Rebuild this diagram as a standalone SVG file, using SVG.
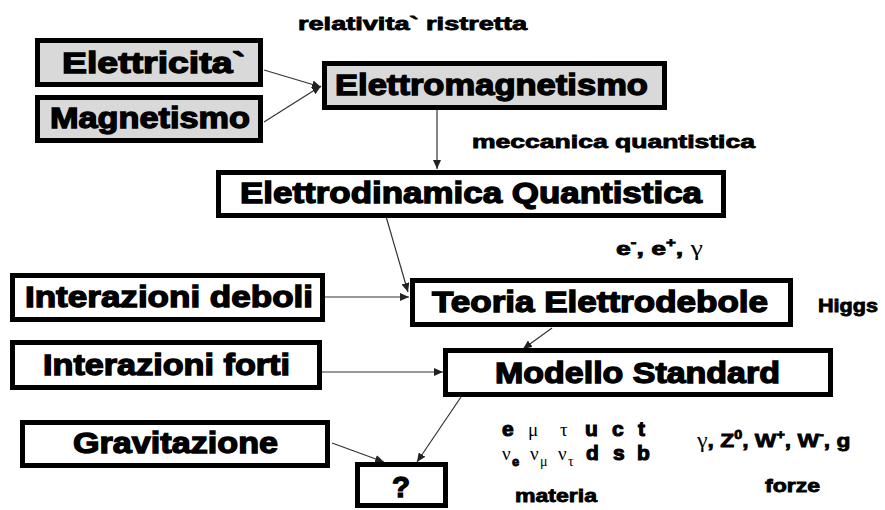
<svg xmlns="http://www.w3.org/2000/svg" width="885" height="510" viewBox="0 0 885 510">
<style>
.box{stroke:#000;stroke-width:5;fill:#fff}
.grey{fill:#d9d9d9}
.lbl{font-family:"Liberation Sans",Arial,sans-serif;font-weight:bold;font-size:29px;fill:#000;stroke:#000;stroke-width:1.3}
.note{font-family:"Liberation Sans",Arial,sans-serif;font-weight:bold;font-size:18px;fill:#000;stroke:#000;stroke-width:0.8}
.big{font-size:21px;stroke-width:1.1}
.gk{font-family:"Liberation Serif","Times New Roman",serif;font-weight:normal;stroke:none}
.conn{stroke:#333;stroke-width:1.2;fill:none;marker-end:url(#ah)}
</style>
<defs>
<marker id="ah" markerUnits="userSpaceOnUse" markerWidth="10" markerHeight="8" refX="9" refY="4" orient="auto">
<path d="M0,0 L9,4 L0,8 Z" fill="#222"/>
</marker>
</defs>
<rect width="885" height="510" fill="#fff"/>

<g id="connectors">
<line class="conn" x1="264" y1="70" x2="321" y2="87"/>
<line class="conn" x1="264" y1="122" x2="321" y2="86"/>
<line class="conn" x1="437" y1="110" x2="437" y2="169"/>
<line class="conn" x1="385" y1="213" x2="408" y2="292"/>
<line class="conn" x1="325" y1="297" x2="409" y2="297"/>
<line class="conn" x1="552" y1="328" x2="523" y2="349"/>
<line class="conn" x1="322" y1="372" x2="443" y2="372"/>
<line class="conn" x1="332" y1="443" x2="384" y2="462"/>
<line class="conn" x1="461" y1="397" x2="417" y2="462"/>
</g>

<g id="elettricita">
<rect class="box grey" x="37.5" y="40.5" width="223" height="44"/>
<text class="lbl" x="62" y="73" textLength="183" lengthAdjust="spacingAndGlyphs">Elettricita`</text>
</g>
<g id="magnetismo">
<rect class="box grey" x="37.5" y="97.5" width="223" height="43"/>
<text class="lbl" x="50" y="128" textLength="200" lengthAdjust="spacingAndGlyphs">Magnetismo</text>
</g>
<g id="elettromagnetismo">
<rect class="box grey" x="324.5" y="63.5" width="340" height="44"/>
<text class="lbl" x="335" y="95" textLength="313" lengthAdjust="spacingAndGlyphs">Elettromagnetismo</text>
</g>
<g id="elettrodinamica">
<rect class="box" x="218.5" y="172.5" width="505" height="43"/>
<text class="lbl" x="240" y="203" textLength="462" lengthAdjust="spacingAndGlyphs">Elettrodinamica Quantistica</text>
</g>
<g id="interazioni-deboli">
<rect class="box" x="12.5" y="275.5" width="310" height="44"/>
<text class="lbl" x="25" y="307" textLength="288" lengthAdjust="spacingAndGlyphs">Interazioni deboli</text>
</g>
<g id="teoria-elettrodebole">
<rect class="box" x="412.5" y="280.5" width="378" height="44"/>
<text class="lbl" x="432" y="312" textLength="336" lengthAdjust="spacingAndGlyphs">Teoria Elettrodebole</text>
</g>
<g id="interazioni-forti">
<rect class="box" x="12.5" y="342.5" width="307" height="45"/>
<text class="lbl" x="43" y="375" textLength="247" lengthAdjust="spacingAndGlyphs">Interazioni forti</text>
</g>
<g id="modello-standard">
<rect class="box" x="445.5" y="350.5" width="385" height="44"/>
<text class="lbl" x="495" y="383" textLength="285" lengthAdjust="spacingAndGlyphs">Modello Standard</text>
</g>
<g id="gravitazione">
<rect class="box" x="22.5" y="422.5" width="305" height="43"/>
<text class="lbl" x="73" y="453" textLength="205" lengthAdjust="spacingAndGlyphs">Gravitazione</text>
</g>
<g id="unknown">
<rect class="box" x="357.5" y="464.5" width="88" height="41"/>
<text class="lbl" x="392" y="497" textLength="18" lengthAdjust="spacingAndGlyphs">?</text>
</g>

<g id="labels">
<text class="note" x="298" y="30" textLength="229" lengthAdjust="spacingAndGlyphs">relativita` ristretta</text>
<text class="note" x="472" y="148" textLength="283" lengthAdjust="spacingAndGlyphs">meccanica quantistica</text>
<g transform="translate(616,255) scale(1.4,1)">
<text class="note" x="0" y="0" style="font-size:19px">e<tspan dy="-8" style="font-size:12px">-</tspan><tspan dy="8">, e</tspan><tspan dy="-8" style="font-size:12px">+</tspan><tspan dy="8">, </tspan><tspan class="gk" style="font-size:20px">γ</tspan></text>
</g>
<text class="note" x="818" y="312" textLength="60" lengthAdjust="spacingAndGlyphs">Higgs</text>

<text class="note big" x="502" y="436">e</text>
<text class="note gk" x="528" y="436" style="font-size:19px">μ</text>
<text class="note gk" x="560" y="436" style="font-size:19px">τ</text>
<text class="note big" x="585" y="436">u</text>
<text class="note big" x="612" y="436">c</text>
<text class="note big" x="638" y="436">t</text>

<text class="note gk" x="502" y="460" style="font-size:19px">ν</text>
<text class="note" x="512" y="466" style="font-size:13px">e</text>
<text class="note gk" x="530" y="460" style="font-size:19px">ν</text>
<text class="note gk" x="540" y="466" style="font-size:14px">μ</text>
<text class="note gk" x="558" y="460" style="font-size:19px">ν</text>
<text class="note gk" x="568" y="466" style="font-size:14px">τ</text>
<text class="note big" x="586" y="460">d</text>
<text class="note big" x="613" y="460">s</text>
<text class="note big" x="637" y="460">b</text>

<g transform="translate(697,447) scale(1.2,1)">
<text class="note" x="0" y="0" style="font-size:19px"><tspan class="gk" style="font-size:20px">γ</tspan>, Z<tspan dy="-8" style="font-size:12px">0</tspan><tspan dy="8">, W</tspan><tspan dy="-8" style="font-size:12px">+</tspan><tspan dy="8">, W</tspan><tspan dy="-8" style="font-size:12px">-</tspan><tspan dy="8">, g</tspan></text>
</g>

<text class="note" x="515" y="502" textLength="82" lengthAdjust="spacingAndGlyphs">materia</text>
<text class="note" x="765" y="492" textLength="55" lengthAdjust="spacingAndGlyphs">forze</text>
</g>
</svg>
